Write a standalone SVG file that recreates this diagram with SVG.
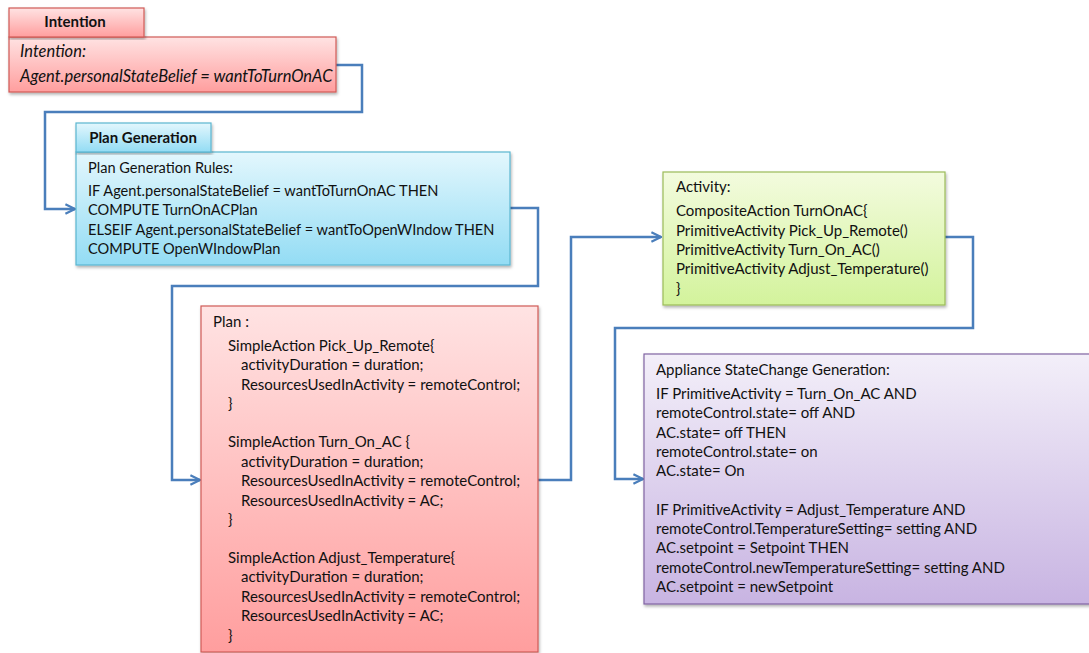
<svg xmlns="http://www.w3.org/2000/svg" width="1089" height="653" viewBox="0 0 1089 653">
<defs>
<linearGradient id="gRed" x1="0" y1="0" x2="0" y2="1"><stop offset="0" stop-color="#ffe3e3"/><stop offset="1" stop-color="#ff9e9e"/></linearGradient>
<linearGradient id="gBlue" x1="0" y1="0" x2="0" y2="1"><stop offset="0" stop-color="#e3f7fd"/><stop offset="1" stop-color="#93dcf4"/></linearGradient>
<linearGradient id="gGreen" x1="0" y1="0" x2="0" y2="1"><stop offset="0" stop-color="#f3fbde"/><stop offset="1" stop-color="#d3f39c"/></linearGradient>
<linearGradient id="gPurple" x1="0" y1="0" x2="0" y2="1"><stop offset="0" stop-color="#f3eff9"/><stop offset="1" stop-color="#c8b4e2"/></linearGradient>
<filter id="sh" x="-5%" y="-5%" width="110%" height="115%"><feDropShadow dx="1" dy="2" stdDeviation="1.5" flood-color="#000" flood-opacity="0.3"/></filter>
<marker id="arr" viewBox="0 0 10 10" refX="9" refY="5" markerWidth="12" markerHeight="12" markerUnits="userSpaceOnUse" orient="auto"><path d="M1,1 L9,5 L1,9" fill="none" stroke="#4a7ebb" stroke-width="1.8"/></marker>
</defs>
<style>
text{font-family:Lato,"Open Sans","Liberation Sans",sans-serif;font-size:15px;fill:#111}
.b{font-weight:bold}
.i{font-style:italic;font-size:16.5px}
.pg{font-size:14.6px}
.red{fill:url(#gRed);stroke:#d05a57;stroke-width:1.2}
.blue{fill:url(#gBlue);stroke:#5bb6d0;stroke-width:1.2}
.green{fill:url(#gGreen);stroke:#9bbb59;stroke-width:1.2}
.purple{fill:url(#gPurple);stroke:#8064a2;stroke-width:1.2}
.c{fill:none;stroke:#4a7ebb;stroke-width:2.5;marker-end:url(#arr)}
</style>
<rect width="1089" height="653" fill="#fff"/>
<g id="connectors">
<path class="c" d="M336,65 H362 V112 H45 V209 H75"/>
<path class="c" d="M510,208 H538 V286 H172 V480 H200"/>
<path class="c" d="M538,480 H571 V237 H661"/>
<path class="c" d="M945,237 H973 V328 H615 V479 H643"/>
</g>
<g id="intention">
<rect class="red" x="9" y="37" width="327" height="55" filter="url(#sh)"/>
<rect class="red" x="9" y="8" width="135" height="29" filter="url(#sh)"/>
<text class="b" x="75" y="27" text-anchor="middle">Intention</text>
<text class="i" x="20" y="57">Intention:</text>
<text class="i" x="20" y="82">Agent.personalStateBelief  = wantToTurnOnAC</text>
</g>
<g id="plan-generation">
<rect class="blue" x="76" y="152" width="434" height="113" filter="url(#sh)"/>
<rect class="blue" x="76" y="123" width="135" height="29" filter="url(#sh)"/>
<text class="b" x="143" y="143" text-anchor="middle">Plan Generation</text>
<text class="pg" x="88" y="173">Plan Generation Rules:</text>
<text class="pg" x="88" y="196">IF Agent.personalStateBelief  = wantToTurnOnAC  THEN</text>
<text class="pg" x="88" y="215">COMPUTE TurnOnACPlan</text>
<text class="pg" x="88" y="235">ELSEIF Agent.personalStateBelief = wantToOpenWIndow  THEN</text>
<text class="pg" x="88" y="254">COMPUTE OpenWIndowPlan</text>
</g>
<g id="plan">
<rect class="red" x="201" y="306" width="337" height="346" filter="url(#sh)"/>
<text x="213" y="327">Plan :</text>
<text x="228" y="351">SimpleAction Pick_Up_Remote{</text>
<text x="241" y="370">activityDuration  = duration;</text>
<text x="241" y="390">ResourcesUsedInActivity = remoteControl;</text>
<text x="228" y="409">}</text>
<text x="228" y="447">SimpleAction Turn_On_AC {</text>
<text x="241" y="467">activityDuration  = duration;</text>
<text x="241" y="486">ResourcesUsedInActivity = remoteControl;</text>
<text x="241" y="506">ResourcesUsedInActivity = AC;</text>
<text x="228" y="525">}</text>
<text x="228" y="563">SimpleAction Adjust_Temperature{</text>
<text x="241" y="582">activityDuration  = duration;</text>
<text x="241" y="602">ResourcesUsedInActivity = remoteControl;</text>
<text x="241" y="621">ResourcesUsedInActivity = AC;</text>
<text x="228" y="641">}</text>
</g>
<g id="activity">
<rect class="green" x="663" y="172" width="282" height="133" filter="url(#sh)"/>
<text x="676" y="192">Activity:</text>
<text x="676" y="216">CompositeAction TurnOnAC{</text>
<text x="676" y="236">PrimitiveActivity Pick_Up_Remote()</text>
<text x="676" y="255">PrimitiveActivity Turn_On_AC()</text>
<text x="676" y="274">PrimitiveActivity Adjust_Temperature()</text>
<text x="676" y="294">}</text>
</g>
<g id="appliance-state-change">
<rect class="purple" x="644" y="354" width="450" height="250" filter="url(#sh)"/>
<text x="656" y="375">Appliance StateChange  Generation:</text>
<text x="656" y="399">IF PrimitiveActivity  = Turn_On_AC AND</text>
<text x="656" y="418">remoteControl.state=  off AND</text>
<text x="656" y="438">AC.state= off THEN</text>
<text x="656" y="457">remoteControl.state=  on</text>
<text x="656" y="476">AC.state= On</text>
<text x="656" y="515">IF PrimitiveActivity = Adjust_Temperature AND</text>
<text x="656" y="534">remoteControl.TemperatureSetting= setting AND</text>
<text x="656" y="553">AC.setpoint = Setpoint THEN</text>
<text x="656" y="573">remoteControl.newTemperatureSetting= setting AND</text>
<text x="656" y="592">AC.setpoint = newSetpoint</text>
</g>
</svg>
